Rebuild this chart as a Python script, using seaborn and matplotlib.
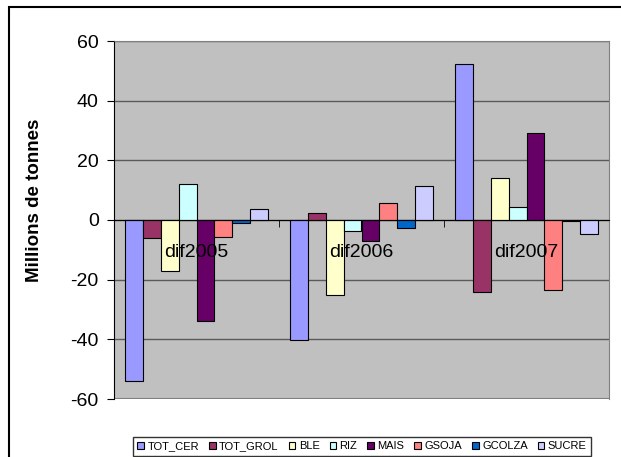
import numpy as np
import pandas as pd
import seaborn as sns
import matplotlib.pyplot as plt
from matplotlib.patches import Rectangle
from matplotlib.ticker import FixedLocator

plt.rcParams['font.family'] = ['Liberation Sans', 'DejaVu Sans']
plt.rcParams['axes.unicode_minus'] = False

# donnees
annees = ["dif2005", "dif2006", "dif2007"]
produits = ["TOT_CER", "TOT_GROL", "BLE", "RIZ", "MAIS", "GSOJA", "GCOLZA", "SUCRE"]
tot_cer = [-54, -40.2, 52.4]
tot_grol = [-6, 2.2, -24.2]
ble = [-17.2, -25.2, 14.2]
riz = [12.2, -3.6, 4.2]
mais = [-34, -7, 29]
gsoja = [-5.6, 5.8, -23.6]
gcolza = [-1, -2.7, -0.3]
sucre = [3.7, 11.3, -4.6]
couleurs = ["#9999FF", "#993366", "#FFFFCC", "#CCFFFF",
            "#660066", "#FF8080", "#0066CC", "#CCCCFF"]

valeurs = [tot_cer, tot_grol, ble, riz, mais, gsoja, gcolza, sucre]
rows = []
for p, vals in zip(produits, valeurs):
    for a, v in zip(annees, vals):
        rows.append({"annee": a, "produit": p, "valeur": v})
df = pd.DataFrame(rows)

W, H = 621, 457
fig = plt.figure(figsize=(W / 100, H / 100), dpi=100)
ax = fig.add_axes([114 / W, 1 - 399 / H, (609 - 114) / W, (399 - 41) / H])
ax.set_facecolor("#C0C0C0")

sns.barplot(data=df, x="annee", y="valeur", hue="produit", order=annees,
            hue_order=produits, palette=couleurs, width=0.87, saturation=1,
            edgecolor="black", linewidth=0.8, ax=ax, zorder=2)

ax.set_ylim(-60, 60)
ax.set_xlim(-0.5, 2.5)
ax.set_yticks(np.arange(-60, 61, 20))
# quadrillage sous les barres, axe au-dessus
for yv in np.arange(-40, 61, 20):
    ax.axhline(yv, color="#5a5a5a", linewidth=1, zorder=0.5)
ax.axhline(-60, color="#808080", linewidth=1.5, zorder=0.5)
ax.set_axisbelow(False)

# axe des x au niveau de zero
ax.spines["bottom"].set_position(("data", 0))
ax.spines["bottom"].set_color("black")
ax.spines["left"].set_color("black")
for s in ["top", "right"]:
    ax.spines[s].set_color("#808080")

ax.xaxis.set_minor_locator(FixedLocator([0.5, 1.5]))
ax.tick_params(axis="x", which="major", length=0, pad=17, labelsize=14)
ax.tick_params(axis="x", which="minor", length=5, direction="out", color="black")
ax.tick_params(axis="y", length=5, direction="out", pad=6, labelsize=14, color="black")

ax.set_xlabel("")
ax.set_ylabel("Millions de tonnes", fontsize=13.5, fontweight="bold")
ax.yaxis.set_label_coords(-0.143, 0.556)

# legende
handles, labels = ax.get_legend_handles_labels()
ax.get_legend().remove()
leg = fig.legend(handles, labels, loc="upper left", ncol=8, mode="expand",
                 bbox_to_anchor=(133 / W, 1 - 437 / H, (591 - 133) / W, 0),
                 fontsize=8, frameon=True, fancybox=False, handlelength=0.6,
                 handleheight=0.6, handletextpad=0.3, columnspacing=0.5,
                 borderaxespad=0, borderpad=0.4)
leg.get_frame().set_edgecolor("black")
leg.get_frame().set_linewidth(1)

# cadre du graphique
fig.patches.append(Rectangle((9 / W, -0.1), 1.2, 1 - 7 / H + 0.1,
                             transform=fig.transFigure, fill=False,
                             edgecolor="black", linewidth=1.5))

fig.savefig("out.png", dpi=100)
